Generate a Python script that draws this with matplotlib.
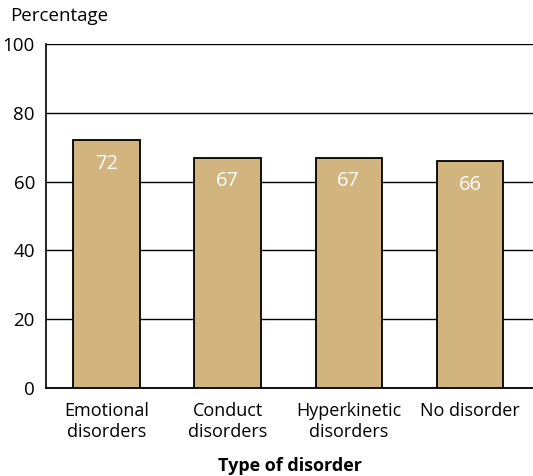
import matplotlib
matplotlib.use("Agg")
import matplotlib.pyplot as plt

categories = ["Emotional\ndisorders", "Conduct\ndisorders", "Hyperkinetic\ndisorders", "No disorder"]
values = [72, 67, 67, 66]
yticks = [0, 20, 40, 60, 80, 100]

plt.rcParams["font.family"] = ["Open Sans", "DejaVu Sans"]

fig = plt.figure(figsize=(5.33, 4.76), dpi=100)
ax = fig.add_axes([46 / 533, 88 / 476, 1 - 46 / 533, 344 / 476])

bar_color = "#D2B47F"
x = list(range(len(categories)))
ax.set_axisbelow(True)
ax.yaxis.grid(True, color="black", linewidth=1.0)
bars = ax.bar(x, values, width=0.55, color=bar_color, edgecolor="black", linewidth=1.3, zorder=3)

for xi, v in zip(x, values):
    ax.annotate(str(v), (xi, v), xytext=(0, -17), textcoords="offset points",
                ha="center", va="center", color="white", fontsize=14.5, zorder=4)

ax.set_ylim(0, 100)
ax.set_xlim(-0.5, 3.52)
ax.set_yticks(yticks)
ax.set_xticks(x)
ax.set_xticklabels(categories, fontsize=13, va="top", linespacing=1.25)
ax.tick_params(axis="y", labelsize=13.5, length=0, pad=8)
ax.tick_params(axis="x", length=0, pad=10)

for side in ["top", "right"]:
    ax.spines[side].set_visible(False)
ax.spines["left"].set_linewidth(1.2)
ax.spines["bottom"].set_linewidth(1.3)

ax.set_xlabel("Type of disorder", fontsize=13, fontweight="bold", labelpad=11)
fig.text(10 / 533, 1 - 16 / 476, "Percentage", fontsize=13.5, ha="left", va="center")

fig.savefig("out.png", dpi=100)
